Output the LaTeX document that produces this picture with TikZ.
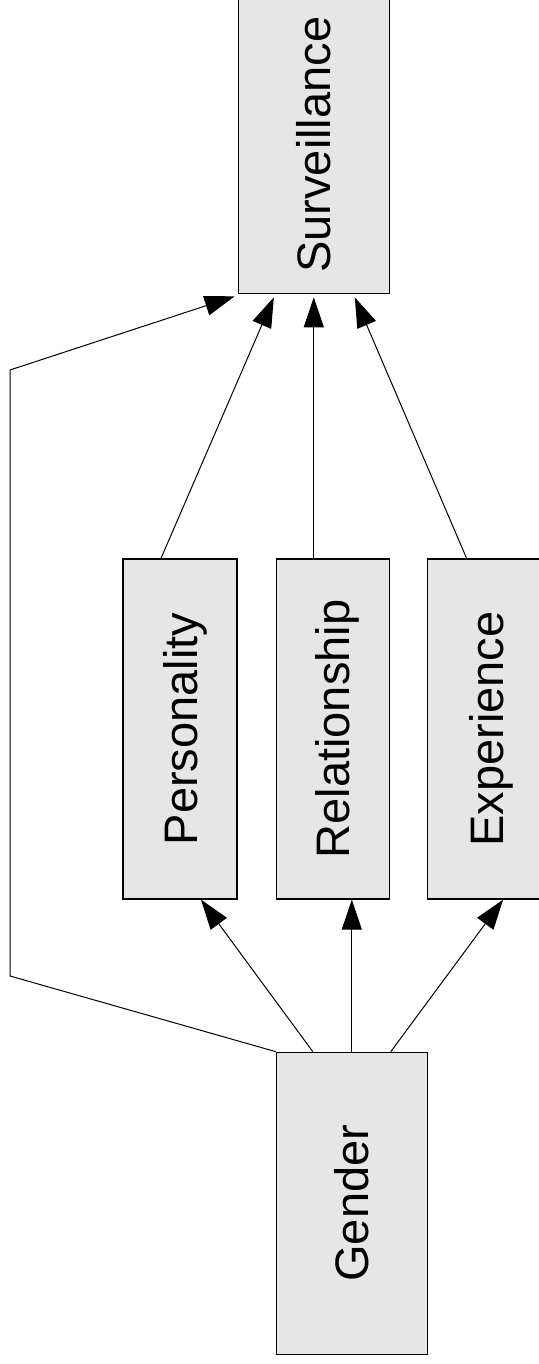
\documentclass[tikz,border=0pt]{standalone}
\usepackage{fontspec}
\setmainfont{Liberation Sans}
\usetikzlibrary{arrows.meta,positioning}

\definecolor{boxgray}{RGB}{230,230,230}
\newcommand{\uptext}[1]{\rotatebox{90}{\raisebox{0pt}[\height][0pt]{#1}}}

\begin{document}
\begin{tikzpicture}[x=1pt,y=1pt,>={Triangle[length=30pt,width=20pt]},line width=1pt,
                    factor/.style={draw,fill=boxgray,line width=1.3pt,inner sep=0pt,
                                   font=\fontsize{47}{50}\selectfont}]
  \useasboundingbox (0,0) rectangle (538,1364);
  \node[factor,minimum width=114pt,minimum height=340pt] (pers) at (180,635) {\uptext{Personality}};
  \node[factor,minimum width=113pt,minimum height=340pt] (rel) [right=38pt of pers] {\uptext{Relationship}};
  \node[factor,minimum width=117pt,minimum height=340pt] (exp) [right=37pt of rel] {\uptext{Experience}};
  \node[factor,minimum width=151pt,minimum height=298pt] (surv) [above=264pt of rel,xshift=-19pt] {\uptext{Surveillance}};
  \node[factor,minimum width=151pt,minimum height=302pt] (gend) [below=152pt of rel,xshift=19pt] {\uptext{Gender}};
  % bends of the direct path
  \coordinate (bendlow) at (10,388);
  \coordinate (bendhigh) at (10,994);
  \path[->]
    ([xshift=-19pt]pers.north) edge ([xshift=-40pt,yshift=-3pt]surv.south)
    (surv.south |- rel.north) edge ([yshift=-3pt]surv.south)
    ([xshift=-19.5pt]exp.north) edge ([xshift=41pt,yshift=-3pt]surv.south)
    ([xshift=-39pt]gend.north) edge ([xshift=21pt]pers.south)
    (gend.north) edge (gend.north |- rel.south)
    ([xshift=39pt]gend.north) edge ([xshift=17pt]exp.south);
  \draw[->] (gend.north west) -- (bendlow) -- (bendhigh) -- ([xshift=-3pt,yshift=-2pt]surv.south west);
\end{tikzpicture}
\end{document}
